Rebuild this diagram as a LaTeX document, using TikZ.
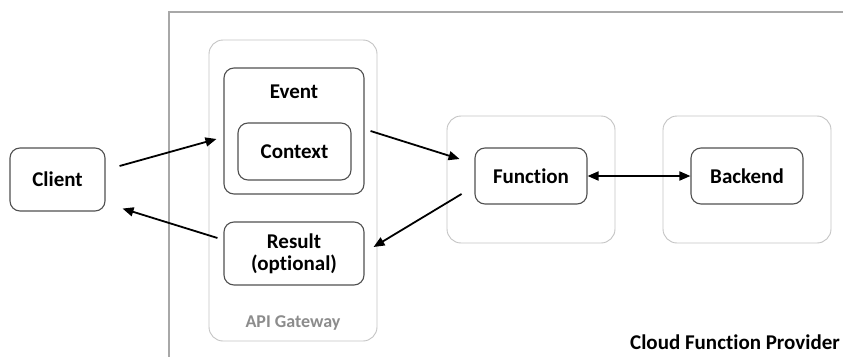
\documentclass[tikz,border=0pt]{standalone}
\usepackage{fontspec}
\setmainfont[Ligatures=NoCommon]{Carlito}
\usetikzlibrary{arrows.meta,calc}

\definecolor{boxline}{HTML}{505050}
\definecolor{groupline}{HTML}{C4C4C4}
\definecolor{frameline}{HTML}{A8A8A8}
\definecolor{grouptext}{HTML}{8C8C8C}

\tikzset{
  txt/.style={font=\bfseries\fontsize{21}{24}\selectfont, text=black},
  inner box/.style={draw=boxline, line width=1.1pt, rounded corners=10pt, fill=white, inner sep=0pt},
  group box/.style={draw=groupline, line width=0.9pt, rounded corners=14pt, inner sep=0pt},
  arr/.style={-{Triangle[length=11pt,width=9pt]}, line width=1.8pt, black},
  biarr/.style={{Triangle[length=11pt,width=9pt]}-{Triangle[length=11pt,width=9pt]}, line width=1.8pt, black}
}

\begin{document}
\begin{tikzpicture}[x=1pt,y=-1pt]
  \useasboundingbox (0,0) rectangle (843,356);
  \clip (0,0) rectangle (843,356);
  \fill[white] (0,0) rectangle (843,356);

  % provider frame, running off the right and bottom edges
  \draw[frameline, line width=1.2pt] (169,380) -- (169,12) -- (870,12);
  \node[txt, anchor=west, inner sep=0pt] (provider) at (630,342) {Cloud Function Provider};

  % API gateway group
  \node[group box, minimum width=168pt, minimum height=301pt] (gateway) at (293,190.5) {};
  \node[font=\bfseries\fontsize{18}{21}\selectfont, text=grouptext] (gwlabel) at (293,323) {API Gateway};

  \node[inner box, minimum width=140pt, minimum height=126pt] (event) at (294,131) {};
  \node[txt] (eventlbl) at (294,92) {Event};
  \node[inner box, txt, minimum width=113pt, minimum height=57pt] (context) at (294.5,151.5) {Context};
  \node[inner box, txt, align=center, minimum width=140pt, minimum height=63pt] (result) at (294,253.5) {Result\\[-2pt](optional)};

  % client
  \node[inner box, txt, minimum width=95pt, minimum height=63pt] (client) at (57.5,179.5) {Client};

  % function and backend groups
  \node[group box, minimum width=168pt, minimum height=127pt] (fgroup) at (531,179.5) {};
  \node[inner box, txt, minimum width=112pt, minimum height=56pt] (function) at (531,176) {Function};
  \node[group box, minimum width=168pt, minimum height=127pt] (bgroup) at (747,179.5) {};
  \node[inner box, txt, minimum width=112pt, minimum height=56pt] (backend) at (747,176) {Backend};

  % connectors
  \draw[arr] ($(client.east)+(14,-13.5)$) -- ($(event.west)+(-7,8)$);
  \draw[arr] ($(result.west)+(-6,-15.5)$) -- ($(client.south east)+(17,-3)$);
  \draw[arr] ($(event.east)+(6,0)$) -- ($(fgroup.west)+(13,-20.5)$);
  \draw[arr] ($(fgroup.west)+(15,14.5)$) -- ($(result.east)+(9,-6.5)$);
  \draw[biarr] (function.east) -- (backend.west);
\end{tikzpicture}
\end{document}
